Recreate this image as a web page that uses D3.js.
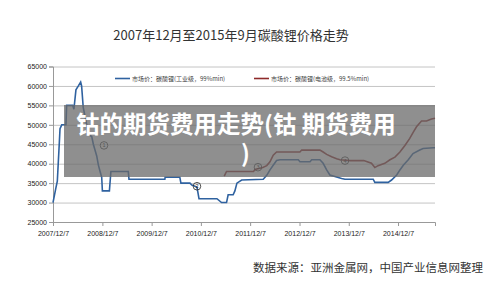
<!DOCTYPE html>
<html>
<head>
<meta charset="utf-8">
<script src="https://cdn.jsdelivr.net/npm/d3@7/dist/d3.min.js"></script>
<style>
  body { margin: 0; background: #fff; }
  svg { display: block; }
  .tick text { font-family: "Liberation Sans", Arial, sans-serif; font-size: 7px; fill: #222; }
</style>
</head>
<body>
<div id="chart"></div>
<script>
// Data
var industrialDates = ["2007-12-07","2007-12-27","2008-01-08","2008-01-23","2008-01-28","2008-02-10","2008-03-12","2008-03-17",
  "2008-05-01","2008-05-10","2008-05-25","2008-06-12","2008-06-29","2008-07-06","2008-07-18","2008-08-13","2008-08-25",
  "2008-09-19","2008-10-01","2008-10-26","2008-11-07","2008-11-20","2008-12-02","2008-12-07","2009-01-28","2009-02-08",
  "2009-06-17","2009-06-22","2010-03-15","2010-03-17","2010-07-04","2010-07-12","2010-09-17","2010-10-01","2010-11-08",
  "2010-11-23","2011-04-05","2011-05-09","2011-06-15","2011-06-27","2011-08-03","2011-08-16","2011-08-31","2011-10-05",
  "2012-03-13","2012-04-08","2012-05-02","2012-05-26","2012-06-20","2012-07-15","2012-11-28","2012-12-10","2013-02-23",
  "2013-03-07","2013-05-07","2013-05-31","2013-06-26","2013-07-20","2013-08-26","2013-10-15","2013-11-09","2014-06-06",
  "2014-06-18","2014-09-25","2014-10-20","2014-11-27","2014-12-21","2015-01-15","2015-02-21","2015-03-28","2015-05-17",
  "2015-06-11","2015-08-24","2015-09-07"];
var industrialPrices = [30000,33500,35500,45500,49000,50000,50000,55000,
  55000,54000,59000,60000,61000,60000,54500,50000,47500,
  47000,45000,42000,39700,38000,36500,33000,33000,38000,
  38000,36000,36000,36500,36500,35000,35000,34500,34000,
  31000,31000,30000,30000,32000,32000,33000,35000,35800,
  36000,37000,38400,39600,40800,41000,41000,40500,40500,
  41000,41000,40100,38400,37100,36700,36200,36000,36000,
  35200,35200,35800,37100,38400,39600,41000,42600,43500,
  43900,44100,44100];

var batteryDates = ["2011-05-29","2011-06-15","2012-01-01","2012-01-12","2012-03-10","2012-04-08","2012-05-02","2012-05-26",
  "2012-06-20","2012-12-10","2012-12-23","2013-05-07","2013-05-31","2013-06-26","2013-08-02","2013-09-08","2013-10-03",
  "2013-12-16","2014-03-28","2014-05-24","2014-06-18","2014-07-12","2014-08-31","2014-10-08","2014-11-14","2014-12-21",
  "2015-01-27","2015-03-04","2015-03-28","2015-04-23","2015-05-30","2015-07-06","2015-08-12","2015-09-07"];
var batteryPrices = [36800,38000,38000,38500,39000,39500,40500,42200,
  43000,43000,43500,43500,43000,42400,41800,41300,41000,
  40800,40800,40100,39000,39500,40100,41000,41700,43000,
  44700,46500,48000,49500,51000,51000,51500,51700];

var markerLabels = ["1", "2", "3", "4"];
var markerDates = ["2008-12-19", "2010-11-08", "2012-02-03", "2013-11-09"];
var markerPrices = [44700, 34200, 39100, 40800];

var yTicks = [25000, 30000, 35000, 40000, 45000, 50000, 55000, 60000, 65000];
var xTickDates = ["2007-12-07","2008-12-07","2009-12-07","2010-12-07","2011-12-07","2012-12-07","2013-12-07","2014-12-07"];

var titleText = "2007年12月至2015年9月碳酸锂价格走势";
var legendNames = ["市场价：碳酸锂(工业级，99%min)", "市场价：碳酸锂(电池级，99.5%min)"];
var overlayLines = ["钴的期货费用走势(钴 期货费用", ")"];
var sourceText = "数据来源：亚洲金属网，中国产业信息网整理";

// Set up the viewport
var svgWidth = 500;
var svgHeight = 285;
var plot = { left: 53, right: 435, top: 66.5, bottom: 222 };

var parse = d3.timeParse("%Y-%m-%d");
var cjk = '"Noto Sans CJK SC", "Noto Sans", sans-serif';

var svg = d3.select("#chart")
  .append("svg")
  .attr("width", svgWidth)
  .attr("height", svgHeight);

var xScale = d3.scaleTime()
  .domain([parse("2007-12-07"), parse("2015-09-07")])
  .range([plot.left, plot.right]);
var yScale = d3.scaleLinear()
  .domain([25000, 65000])
  .range([plot.bottom, plot.top]);

// Title
svg.append("text")
  .attr("x", 231)
  .attr("y", 39.5)
  .attr("text-anchor", "middle")
  .style("font-family", cjk)
  .style("font-size", "13px")
  .style("fill", "#333")
  .text(titleText);

// Gridlines
svg.append("g")
  .attr("transform", `translate(${plot.left},0)`)
  .call(d3.axisLeft(yScale).tickValues(yTicks).tickSize(-(plot.right - plot.left)).tickFormat(""))
  .call(g => g.select(".domain").remove())
  .call(g => g.selectAll("line").attr("stroke", "#c4c4c4").attr("stroke-width", 1));

// Y axis
svg.append("g")
  .attr("transform", `translate(${plot.left},0)`)
  .call(d3.axisLeft(yScale).tickValues(yTicks).tickSize(4).tickPadding(2).tickFormat(d3.format("d")))
  .call(g => g.select(".domain").attr("stroke", "#999"))
  .call(g => g.selectAll("line").attr("stroke", "#999"));

// X axis
svg.append("g")
  .attr("transform", `translate(0,${plot.bottom})`)
  .call(d3.axisBottom(xScale).tickValues(xTickDates.map(parse)).tickSize(4).tickPadding(5).tickFormat(d3.timeFormat("%Y/%m/%-d")))
  .call(g => g.select(".domain").attr("stroke", "#999"))
  .call(g => g.selectAll("line").attr("stroke", "#999"))
  .call(g => g.selectAll("text").text(d => d.getFullYear() + "/12/7"));

// Lines
var line = d3.line()
  .x(d => xScale(d[0]))
  .y(d => yScale(d[1]));

var industrial = industrialDates.map((d, i) => [parse(d), industrialPrices[i]]);
var battery = batteryDates.map((d, i) => [parse(d), batteryPrices[i]]);

svg.append("path")
  .datum(industrial)
  .attr("d", line)
  .attr("fill", "none")
  .attr("stroke", "#2f62a0")
  .attr("stroke-width", 1.6);

svg.append("path")
  .datum(battery)
  .attr("d", line)
  .attr("fill", "none")
  .attr("stroke", "#8e2a2a")
  .attr("stroke-width", 1.6);

// Circled number markers
var markers = svg.selectAll(".marker")
  .data(markerLabels)
  .enter()
  .append("g")
  .attr("transform", (d, i) => `translate(${xScale(parse(markerDates[i]))},${yScale(markerPrices[i])})`);
markers.append("circle")
  .attr("r", 3.8)
  .attr("fill", "none")
  .attr("stroke", "#222")
  .attr("stroke-width", 0.8);
markers.append("text")
  .attr("y", 2)
  .attr("text-anchor", "middle")
  .style("font-family", "Liberation Sans, Arial, sans-serif")
  .style("font-size", "5.5px")
  .style("fill", "#222")
  .text(d => d);

// Legend
var legendX = [115, 254];
legendNames.forEach(function(name, i) {
  svg.append("line")
    .attr("x1", legendX[i]).attr("x2", legendX[i] + 15)
    .attr("y1", 78.5).attr("y2", 78.5)
    .attr("stroke", i === 0 ? "#2f62a0" : "#8e2a2a")
    .attr("stroke-width", 1.6);
  svg.append("text")
    .attr("x", legendX[i] + 17)
    .attr("y", 80.5)
    .style("font-family", cjk)
    .style("font-size", "6px")
    .style("fill", "#444")
    .text(name);
});

// Gray overlay banner
svg.append("rect")
  .attr("x", 64)
  .attr("y", 105)
  .attr("width", 371)
  .attr("height", 72)
  .attr("fill", "rgb(105,105,105)")
  .attr("fill-opacity", 0.75);

svg.append("text")
  .attr("x", 76)
  .attr("y", 132.5)
  .style("font-family", cjk)
  .style("font-weight", "bold")
  .style("font-size", "23.5px")
  .style("fill", "#fff")
  .text(overlayLines[0]);
svg.append("text")
  .attr("x", 241)
  .attr("y", 162)
  .style("font-family", cjk)
  .style("font-weight", "bold")
  .style("font-size", "23.5px")
  .style("fill", "#fff")
  .text(overlayLines[1]);

// Source note
svg.append("text")
  .attr("x", 253)
  .attr("y", 272)
  .style("font-family", cjk)
  .style("font-size", "11.5px")
  .style("fill", "#333")
  .text(sourceText);
</script>
</body>
</html>
